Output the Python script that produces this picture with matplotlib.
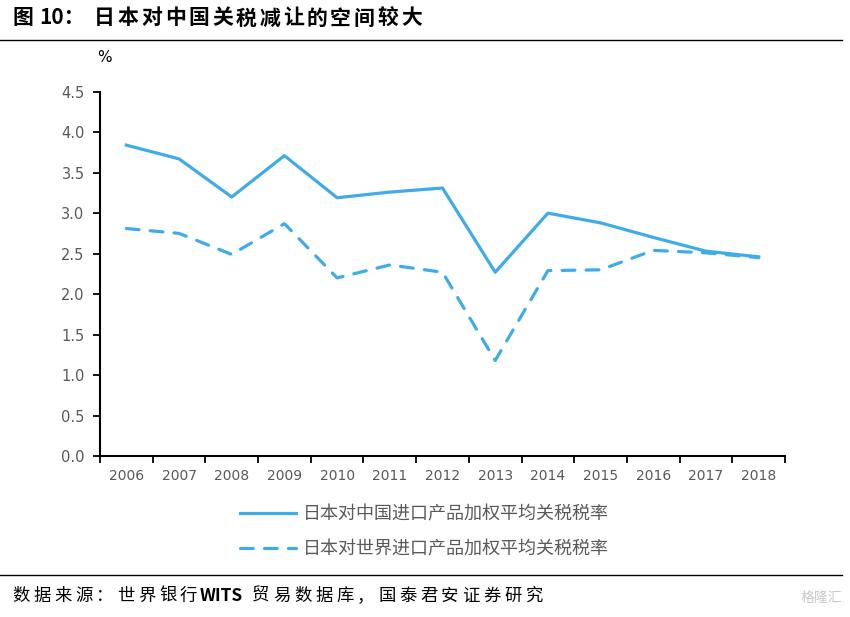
import matplotlib
matplotlib.use("Agg")
import matplotlib.pyplot as plt
from matplotlib.lines import Line2D

plt.rcParams['font.family'] = ['Noto Sans CJK SC', 'DejaVu Sans']

years = ['2006', '2007', '2008', '2009', '2010', '2011', '2012',
         '2013', '2014', '2015', '2016', '2017', '2018']
china = [3.84, 3.67, 3.20, 3.71, 3.19, 3.26, 3.31, 2.27, 3.00, 2.88, 2.70, 2.53, 2.46]
world = [2.81, 2.75, 2.49, 2.87, 2.20, 2.36, 2.27, 1.18, 2.29, 2.30, 2.54, 2.51, 2.45]
label_china = '日本对中国进口产品加权平均关税税率'
label_world = '日本对世界进口产品加权平均关税税率'
yticks = [0.0, 0.5, 1.0, 1.5, 2.0, 2.5, 3.0, 3.5, 4.0, 4.5]

color = '#3FABE9'
gray = '#595959'
W, H = 850, 617

fig = plt.figure(figsize=(8.5, 6.17), dpi=100)
ax = fig.add_axes([0.1176, 0.2609, 0.806, 0.5905])

x = list(range(len(years)))
ax.plot(x, china, color=color, lw=2.3, solid_joinstyle='round')
ax.plot(x, world, color=color, lw=2.3, dashes=(4, 3.5), dash_capstyle='round')

ax.set_xlim(-0.5, len(years) - 0.5)
ax.set_ylim(0, 4.5)
ax.set_yticks(yticks)
ax.set_yticklabels([f'{v:.1f}' for v in yticks], fontfamily='DejaVu Sans')
ax.set_xticks(x)
ax.set_xticklabels(years, fontfamily='DejaVu Sans')
ax.set_xticks([i - 0.5 for i in range(len(years) + 1)], minor=True)
ax.tick_params(axis='x', which='major', length=0, pad=9, labelsize=10, labelcolor=gray)
ax.tick_params(axis='x', which='minor', length=5, width=1.3, direction='out')
ax.tick_params(axis='y', length=5, width=1.3, direction='out', pad=6, labelsize=10.5, labelcolor=gray)
for s in ['top', 'right']:
    ax.spines[s].set_visible(False)
for s in ['left', 'bottom']:
    ax.spines[s].set_linewidth(1.5)

fig.text(97 / W, 1 - 57 / H, '%', fontsize=11, ha='left', va='center', family='DejaVu Sans')

h1 = Line2D([], [], color=color, lw=2.3)
h2 = Line2D([], [], color=color, lw=2.3, dashes=(4, 3.5), dash_capstyle='round')
leg = fig.legend([h1, h2], [label_china, label_world], loc='center left',
                 bbox_to_anchor=(240 / W, 1 - 532 / H), frameon=False,
                 fontsize=13, handlelength=3.1, handletextpad=0.4,
                 labelspacing=0.95, borderpad=0, borderaxespad=0)
for t in leg.get_texts():
    t.set_color(gray)


def spaced(x0, ypx, s, adv, **kw):
    for i, ch in enumerate(s):
        fig.text((x0 + i * adv) / W, 1 - ypx / H, ch, ha='left', va='center', **kw)


# title
fig.text(12 / W, 1 - 18 / H, '图', fontsize=15, fontweight='bold', ha='left', va='center')
fig.text(39 / W, 1 - 18 / H, '10：', fontsize=15, fontweight='bold', ha='left', va='center')
spaced(94, 18, '日本对中国关税减让的空间较大', 23.6, fontsize=15, fontweight='bold')

fig.add_artist(Line2D([0.0, 0.99], [1 - 40 / H, 1 - 40 / H], color='black', lw=1.0))
fig.add_artist(Line2D([0.0, 0.99], [1 - 575 / H, 1 - 575 / H], color='black', lw=1.0))

# footer
spaced(12, 596, '数据来源：世界银行', 21, fontsize=12.5)
fig.text(200 / W, 1 - 596 / H, 'WITS', fontsize=12.5, fontweight='bold',
         ha='left', va='center')
spaced(252, 596, '贸易数据库，国泰君安证券研究', 21, fontsize=12.5)
fig.text(842 / W, 1 - 598 / H, '格隆汇', fontsize=10, color='#C8C8C8',
         ha='right', va='center')

fig.savefig('out.png', dpi=100)
